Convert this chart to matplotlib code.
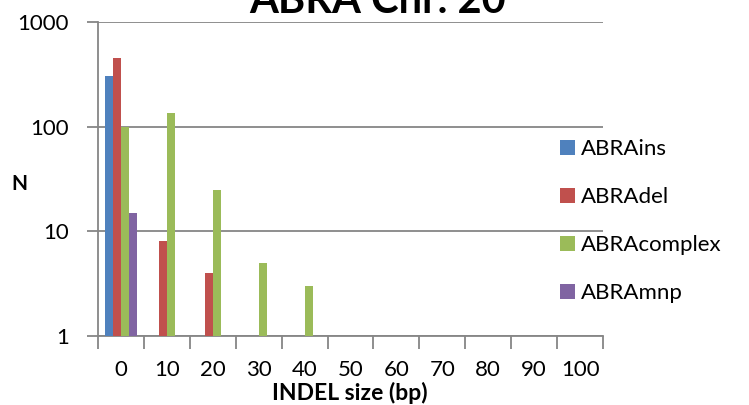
import matplotlib
matplotlib.use("Agg")
import matplotlib.pyplot as plt
import numpy as np

categories = ["0", "10", "20", "30", "40", "50", "60", "70", "80", "90", "100"]
series_names = ["ABRAins", "ABRAdel", "ABRAcomplex", "ABRAmnp"]
abra_ins = [305, 0, 0, 0, 0, 0, 0, 0, 0, 0, 0]
abra_del = [450, 8, 4, 0, 0, 0, 0, 0, 0, 0, 0]
abra_complex = [100, 135, 25, 5, 3, 0, 0, 0, 0, 0, 0]
abra_mnp = [15, 0, 0, 0, 0, 0, 0, 0, 0, 0, 0]
colors = ["#4F81BD", "#C0504D", "#9BBB59", "#8064A2"]
yticks = [1, 10, 100, 1000]
ytick_labels = ["1", "10", "100", "1000"]

plt.rcParams['font.family'] = ['Lato', 'DejaVu Sans']

W, H = 749, 405
fig = plt.figure(figsize=(W / 100, H / 100), dpi=100)
ax = fig.add_axes([98 / W, 1 - 336 / H, (603 - 98) / W, (336 - 22) / H])

x = np.arange(len(categories))
w = 0.175
all_series = [abra_ins, abra_del, abra_complex, abra_mnp]
for i, (vals, name, c) in enumerate(zip(all_series, series_names, colors)):
    vals = np.array(vals, dtype=float)
    m = vals > 0
    ax.bar(x[m] + (i - 1.5) * w, vals[m], width=w, color=c, label=name, zorder=3)
ax.set_yscale('log')
ax.set_ylim(1, 1000)
ax.set_xlim(-0.5, len(categories) - 0.5)

ax.set_yticks(yticks)
ax.set_yticklabels(ytick_labels)
ax.yaxis.set_minor_locator(matplotlib.ticker.NullLocator())
ax.grid(axis='y', color='#868686', linewidth=1.3, zorder=0)

ax.set_xticks(np.arange(-0.5, len(categories), 1.0))
ax.set_xticklabels([])
ax.set_xticks(x, minor=True)
ax.set_xticklabels(categories, minor=True)
ax.tick_params(axis='x', which='major', length=9, width=1.3, color='#868686', direction='out')
ax.tick_params(axis='x', which='minor', length=0, pad=17, labelsize=16)
ax.tick_params(axis='y', which='major', length=8, width=1.3, color='#868686', labelsize=16, pad=13)

for s in ['top', 'right']:
    ax.spines[s].set_visible(False)
for s in ['left', 'bottom']:
    ax.spines[s].set_color('#868686')
    ax.spines[s].set_linewidth(1.3)

fig.text(350 / W, 1 - 393 / H, "INDEL size (bp)", fontsize=16.5, fontweight='bold',
         ha='center', va='center')
fig.text(19 / W, 1 - 184 / H, "N", fontsize=15, fontweight='bold', ha='center', va='center')

fig.text(378 / W, 1 - 13 / H, "ABRA Chr. 20", fontsize=30, fontweight='bold',
         ha='center', va='baseline')

leg = fig.legend(*ax.get_legend_handles_labels(), loc='center left',
                 bbox_to_anchor=(560 / W, 1 - 221 / H), bbox_transform=fig.transFigure,
                 frameon=False, fontsize=16, handlelength=0.68, handleheight=0.68,
                 labelspacing=1.26, handletextpad=0.27, borderaxespad=0, borderpad=0)

fig.savefig("out.png", dpi=100)
